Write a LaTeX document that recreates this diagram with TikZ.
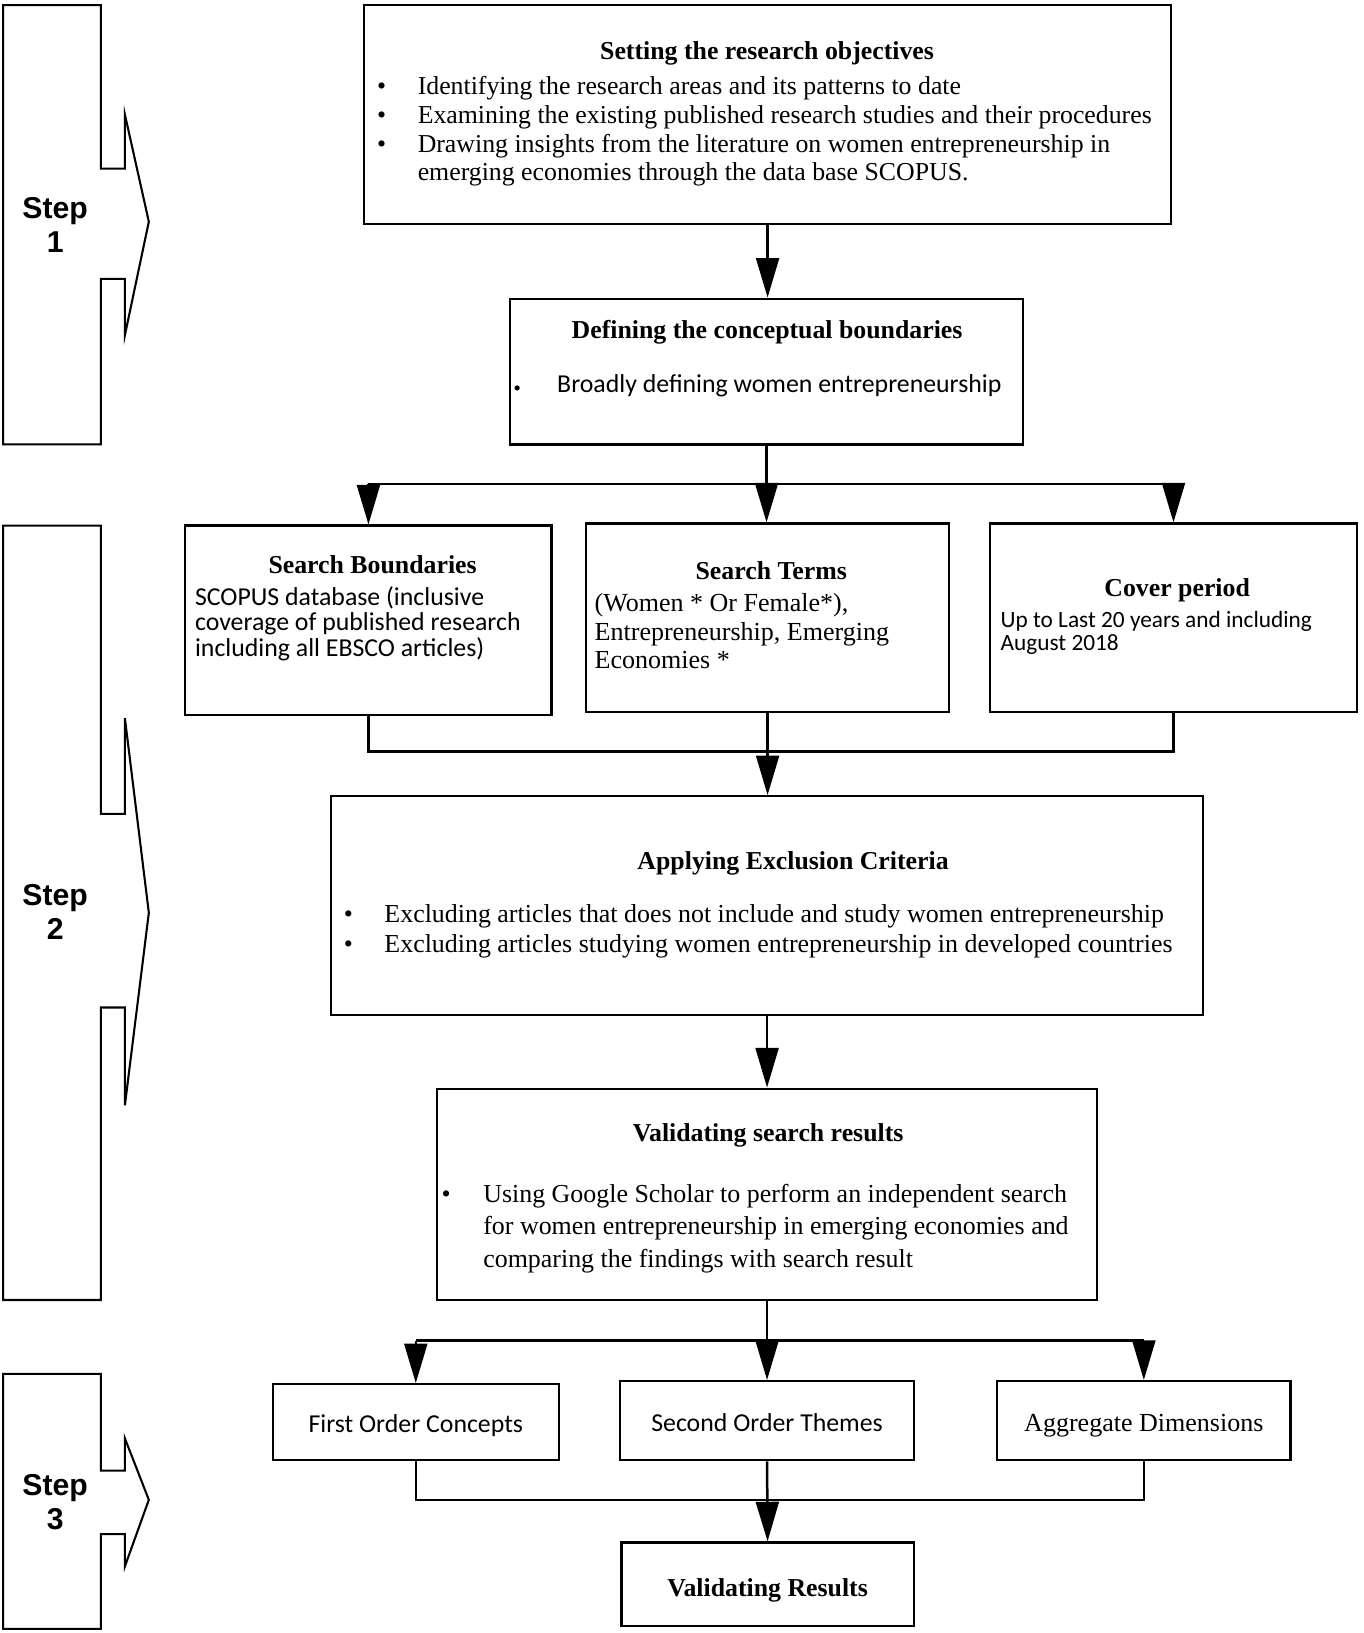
\documentclass[tikz,border=0pt]{standalone}
\usepackage{fontspec}
\setmainfont{Liberation Serif}
\newfontfamily\calib{Carlito}
\newfontfamily\arialf{Liberation Sans}
\usetikzlibrary{arrows.meta}
\newcommand\mybul[1]{\makebox[#1][l]{\textbullet}}
\newcommand\mynobul[1]{\makebox[#1][l]{}}
\begin{document}
\begin{tikzpicture}[x=0.5pt,y=-0.5pt,
  box/.style={draw, line width=1.1pt, inner sep=0pt},
  txt/.style={inner sep=0pt, anchor=north west, align=left},
  ttl/.style={inner sep=0pt, font=\fontsize{12.4}{14}\selectfont\bfseries},
  conn/.style={line width=1.2pt},
  arr/.style={line width=1.2pt, -{Triangle[length=19pt,width=11pt]}},
  stepshape/.style={line width=1pt, line join=miter},
  steplbl/.style={font=\arialf\bfseries\fontsize{14.5}{16.5}\selectfont, align=center, inner sep=0pt}
]
\useasboundingbox (0,0) rectangle (1310,1569);

% step shapes
\draw[stepshape] (3,5) -- (97,5) -- (97,162) -- (120,162) -- (120,110) -- (143,213) -- (120,322) -- (120,268) -- (97,268) -- (97,427) -- (3,427) -- cycle;
\draw[stepshape] (3,505) -- (97,505) -- (97,782) -- (120,782) -- (120,690) -- (143,877) -- (120,1062) -- (120,968) -- (97,968) -- (97,1249) -- (3,1249) -- cycle;
\draw[stepshape] (3,1320) -- (97,1320) -- (97,1413) -- (120,1413) -- (120,1382) -- (143,1441) -- (120,1505) -- (120,1474) -- (97,1474) -- (97,1565) -- (3,1565) -- cycle;
\node[steplbl] (s1) at (53,216) {Step\\1};
\node[steplbl] (s2) at (53,876) {Step\\2};
\node[steplbl] (s3) at (53,1443) {Step\\3};

% boxes
\node[box, minimum width=387.5pt, minimum height=105pt] (top) at (737.5,110) {};
\node[box, minimum width=246.5pt, minimum height=70pt] (def) at (736.5,357) {};
\node[box, minimum width=176pt, minimum height=91pt] (sb) at (354,596) {};
\node[box, minimum width=174.5pt, minimum height=90.5pt] (st) at (737.5,593.5) {};
\node[box, minimum width=176.5pt, minimum height=90.5pt] (cp) at (1127.5,593.5) {};
\node[box, minimum width=419pt, minimum height=105pt] (exc) at (737,870) {};
\node[box, minimum width=317pt, minimum height=101.5pt] (val) at (737,1147.5) {};
\node[box, minimum width=137.5pt, minimum height=36.5pt] (foc) at (399.5,1366.5) {};
\node[box, minimum width=141pt, minimum height=38pt] (sot) at (737,1365) {};
\node[box, minimum width=141pt, minimum height=38pt] (agg) at (1099,1365) {};
\node[box, minimum width=140.5pt, minimum height=40pt] (vr) at (737.5,1522) {};

% texts
\node[ttl] (topt) at (737,51) {Setting the research objectives};
\node[txt, font=\fontsize{12.4}{13.8}\selectfont] (topb) at (362,73) {\mybul{19.5pt}Identifying the research areas and its patterns to date\\
\mybul{19.5pt}Examining the existing published research studies and their procedures\\
\mybul{19.5pt}Drawing insights from the literature on women entrepreneurship in\\
\mynobul{19.5pt}emerging economies through the data base SCOPUS.};

\node[ttl] (deft) at (737,319) {Defining the conceptual boundaries};
\node[txt, anchor=west, font=\calib\fontsize{12.4}{13.8}\selectfont] (defb) at (493,371) {\makebox[21pt][l]{\scriptsize\textbullet}Broadly defining women entrepreneurship};

\node[ttl] (sbt) at (358,543) {Search Boundaries};
\node[txt, font=\calib\fontsize{12.4}{12.25}\selectfont] (sbb) at (187,563) {SCOPUS database (inclusive\\coverage of published research\\including all EBSCO articles)};

\node[ttl] (stt) at (741,548) {Search Terms};
\node[txt, font=\fontsize{12.5}{13.75}\selectfont] (stb) at (571,570) {(Women * Or Female*),\\Entrepreneurship, Emerging\\Economies *};

\node[ttl] (cpt) at (1131,567) {Cover period};
\node[txt, font=\calib\fontsize{11.2}{11}\selectfont] (cpb) at (961,587) {Up to Last 20 years and including\\August 2018};

\node[ttl] (exct) at (762,830) {Applying Exclusion Criteria};
\node[txt, font=\fontsize{12.45}{14}\selectfont] (excb) at (330,869) {\mybul{19.5pt}Excluding articles that does not include and study women entrepreneurship\\
\mybul{19.5pt}Excluding articles studying women entrepreneurship in developed countries};

\node[ttl] (valt) at (738,1091) {Validating search results};
\node[txt, font=\fontsize{12.45}{15.75}\selectfont] (valb) at (424,1137) {\mybul{20pt}Using Google Scholar to perform an independent search\\
\mynobul{20pt}for women entrepreneurship in emerging economies and\\
\mynobul{20pt}comparing the findings with search result};

\node[inner sep=0pt, font=\calib\fontsize{12.4}{14}\selectfont, yshift=-2pt] (foct) at (foc) {\strut First Order Concepts};
\node[inner sep=0pt, font=\calib\fontsize{12.4}{14}\selectfont, yshift=-2.5pt] (sott) at (sot) {\strut Second Order Themes};
\node[inner sep=0pt, font=\fontsize{12.5}{14}\selectfont, yshift=-2.5pt] (aggt) at (agg) {\strut Aggregate Dimensions};
\node[ttl, yshift=-3pt] (vrt) at (vr) {\strut Validating Results};

% connectors
\coordinate (b1) at (737,465);
\coordinate (j1) at (737,722);
\coordinate (b2) at (737,1288);
\coordinate (j2) at (737,1441);

\draw[arr] (top.south) -- (top.south |- def.north);
\draw[conn] (def.south) -- (def.south |- b1);
\draw[conn] (sb.north |- b1) -- (cp.north |- b1);
\draw[arr] (sb.north |- b1) -- (sb.north);
\draw[arr] (def.south |- b1) -- (def.south |- st.north);
\draw[arr] (cp.north |- b1) -- (cp.north);
\draw[conn] (sb.south) -- (sb.south |- j1) -- (cp.south |- j1) -- (cp.south);
\draw[arr] (st.south) -- (st.south |- exc.north);
\draw[arr] (exc.south) -- (exc.south |- val.north);
\draw[conn] (val.south) -- (b2);
\draw[conn] (foc.north |- b2) -- (agg.north |- b2);
\draw[arr] (foc.north |- b2) -- (foc.north);
\draw[arr] (b2) -- (sot.north);
\draw[arr] (agg.north |- b2) -- (agg.north);
\draw[conn] (foc.south) -- (foc.south |- j2) -- (agg.south |- j2) -- (agg.south);
\draw[arr] (sot.south) -- (vr.north);
\end{tikzpicture}
\end{document}
